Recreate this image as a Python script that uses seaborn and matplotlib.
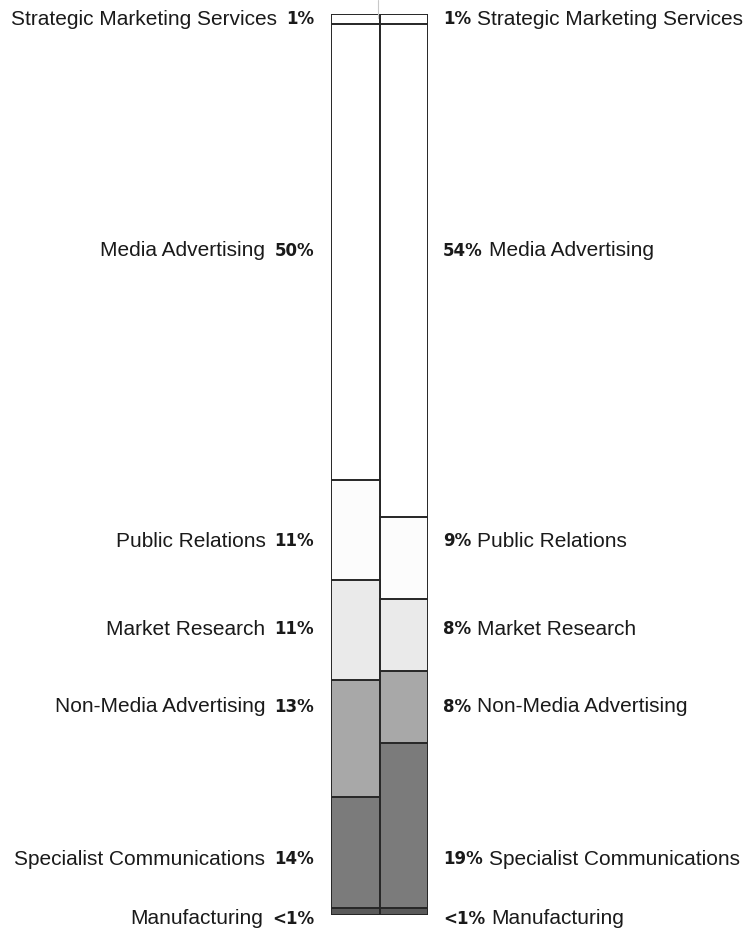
import numpy as np
import pandas as pd
import seaborn as sns
import matplotlib.pyplot as plt

sns.set_style('white')
plt.rcParams['font.family'] = ['Liberation Sans', 'DejaVu Sans']

# segments, bottom to top
segments = ['Manufacturing', 'Specialist Communications', 'Non-Media Advertising',
            'Market Research', 'Public Relations', 'Media Advertising',
            'Strategic Marketing Services']
# bar heights (share of the bar, %)
left_vals = [0.8, 12.3, 13.0, 11.1, 11.1, 50.6, 1.1]
right_vals = [0.8, 18.3, 8.0, 8.0, 9.1, 54.7, 1.1]
# printed labels
left_pct = ['<1%', '14%', '13%', '11%', '11%', '50%', '1%']
right_pct = ['<1%', '19%', '8%', '8%', '9%', '54%', '1%']

colors = ['#5a5a5a', '#7b7b7b', '#a8a8a8', '#eaeaea', '#fcfcfc', '#ffffff', '#ffffff']
# where the labels sit (data units on the 0-100 axis)
label_y = [-0.4, 6.2, 23.1, 31.7, 41.5, 73.7, 99.4]

df = pd.DataFrame({'segment': segments * 2,
                   'bar': ['A'] * 7 + ['B'] * 7,
                   'value': left_vals + right_vals})
df['top'] = df.groupby('bar')['value'].cumsum()

fig = plt.figure(figsize=(7.52, 9.33), dpi=100)
ax = fig.add_axes([331 / 752, 18 / 933, 97 / 752, 901 / 933])

# draw cumulative bars from the top segment down so each overlays the one above
for i in range(len(segments) - 1, -1, -1):
    sub = df[df['segment'] == segments[i]]
    sns.barplot(data=sub, x='bar', y='top', order=['A', 'B'], color=colors[i],
                width=1.0, edgecolor='#262626', linewidth=1.4, ax=ax,
                saturation=1, errorbar=None)

ax.set_xlim(-0.5, 1.5)
ax.set_ylim(0, 100)
ax.axis('off')

# faint scan line above the bars
fig.add_artist(plt.Line2D([378.5 / 752, 378.5 / 752], [915 / 933, 1.0],
                          color='#c8c8c8', lw=0.8))

fig.canvas.draw()
r = fig.canvas.get_renderer()
name_fs = 15
pct_fs = 12
for name, lp, rp, y in zip(segments, left_pct, right_pct, label_y):
    yf = fig.transFigure.inverted().transform(ax.transData.transform((0, y)))[1]
    # left side: "Name  pct"
    t = fig.text(314 / 752, yf, lp, ha='right', va='center', fontsize=pct_fs,
                 fontweight='bold', family='DejaVu Sans', color='#1a1a1a')
    bb = t.get_window_extent(r)
    fig.text((bb.x0 - 9) / 752, yf, name, ha='right', va='center',
             fontsize=name_fs, color='#1a1a1a')
    # right side: "pct  Name"
    t = fig.text(443 / 752, yf, rp, ha='left', va='center', fontsize=pct_fs,
                 fontweight='bold', family='DejaVu Sans', color='#1a1a1a')
    bb = t.get_window_extent(r)
    fig.text((bb.x1 + 6) / 752, yf, name, ha='left', va='center',
             fontsize=name_fs, color='#1a1a1a')

fig.savefig('out.png', dpi=100)
